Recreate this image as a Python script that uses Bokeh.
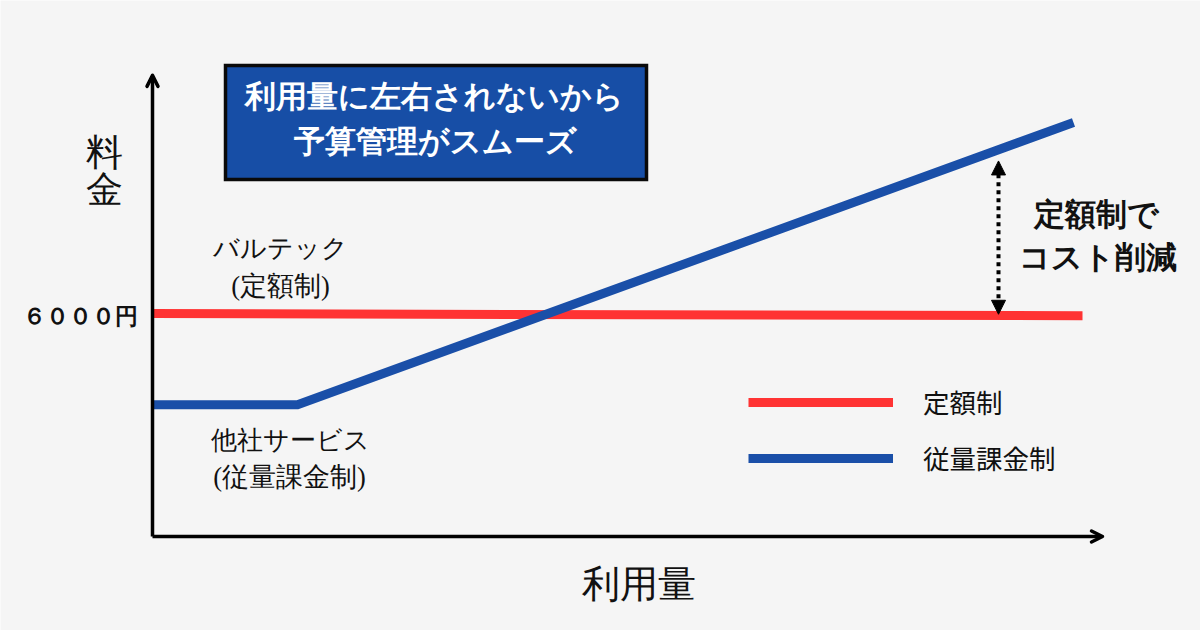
from bokeh.embed import file_html
from bokeh.models import (Arrow, ColumnDataSource, Legend, LegendItem, NormalHead,
                          OpenHead, Range1d)
from bokeh.plotting import figure
from bokeh.resources import INLINE

# ---- chart values (usage in arbitrary units, fee in yen) ----
flat_usage = [0, 930]
flat_fee = [6020, 5960]
metered_usage = [0, 145, 921]
metered_fee = [3560, 3560, 11180]
axis_usage_max = 950
axis_fee_max = 12450
saving_fee = [6000, 10140]
saving_usage = 846

title_lines = ["利用量に左右されないから", "予算管理がスムーズ"]
y_title_chars = ["料", "金"]
x_title = "利用量"
flat_notes = ["バルテック", "(定額制)"]
metered_notes = ["他社サービス", "(従量課金制)"]
saving_lines = ["定額制で", "コスト削減"]
fee_tick = "６０００円"
legend_labels = ["定額制", "従量課金制"]

# ---- layout: page pixel -> data conversion ----
W, H = 1200, 630
OX, OY = 152, 536
FEE_PER_PX = 27.0
FONT = "Noto Sans CJK JP"
INK = "#111111"
RED = "#ff3333"
BLUE = "#1a4fa8"
BG = "#f5f5f5"


def dx(px):
    return px - OX


def dy(py):
    return (OY - py) * FEE_PER_PX


p = figure(width=W, height=H, output_backend="svg", toolbar_location=None,
           x_range=Range1d(dx(0), dx(W)), y_range=Range1d(dy(H), dy(0)),
           x_axis_location=None, y_axis_location=None, min_border=0,
           background_fill_color=BG, border_fill_color=BG, outline_line_color=None)
p.grid.visible = False

red = p.line(flat_usage, flat_fee, line_color=RED, line_width=9, line_cap="butt")
blue = p.line(metered_usage, metered_fee, line_color=BLUE, line_width=9,
              line_cap="butt", line_join="miter")

# axes
for xe, ye in ((axis_usage_max, 0), (0, axis_fee_max)):
    p.add_layout(Arrow(x_start=0, y_start=0, x_end=xe, y_end=ye,
                       line_color="black", line_width=3.5,
                       end=OpenHead(size=11, line_color="black", line_width=3.5,
                                    line_cap="round", line_join="round")))

# saving arrow
head = dict(size=14, fill_color="black", line_color="black", line_width=1)
p.add_layout(Arrow(x_start=saving_usage, y_start=saving_fee[0],
                   x_end=saving_usage, y_end=saving_fee[1],
                   line_color="black", line_width=4, line_dash=[4, 4],
                   start=NormalHead(**head), end=NormalHead(**head)))

# title box
p.rect(x=dx(435.5), y=dy(122), width=421, height=114 * FEE_PER_PX,
       fill_color="#174ea6", line_color="#0a0a0a", line_width=3.5, line_join="miter")


def texts(items, size, color=INK, style="normal"):
    src = ColumnDataSource(dict(x=[dx(i[0]) for i in items],
                                y=[dy(i[1]) for i in items],
                                t=[i[2] for i in items]))
    p.text("x", "y", "t", source=src, text_font=FONT, text_font_size=size,
           text_color=color, text_font_style=style, text_align="center",
           text_baseline="middle")


texts([(434, 96, title_lines[0]), (435, 141, title_lines[1])], "31px", "white", "bold")
texts([(104, 152, y_title_chars[0]), (104, 189, y_title_chars[1])], "37px")
texts([(638, 583, x_title)], "38px")
texts([(280, 248, flat_notes[0])], "25.5px")
texts([(280, 285, flat_notes[1])], "26.5px")
texts([(290, 440, metered_notes[0])], "25.5px")
texts([(289, 476, metered_notes[1])], "26.5px")
texts([(1096, 214, saving_lines[0]), (1097, 257, saving_lines[1])], "31px", "#111111", "bold")
texts([(80, 316, fee_tick)], "23px", INK, "bold")

legend = Legend(items=[LegendItem(label=legend_labels[0], renderers=[red]),
                       LegendItem(label=legend_labels[1], renderers=[blue])],
                location=(748, 153), orientation="vertical",
                background_fill_alpha=0, border_line_alpha=0,
                margin=0, padding=0, spacing=17, glyph_width=145, glyph_height=36,
                label_standoff=30, label_text_font=FONT, label_text_font_size="26.5px",
                label_text_color=INK, label_height=36)
p.add_layout(legend)

open("out.html", "w").write(file_html(p, INLINE))
